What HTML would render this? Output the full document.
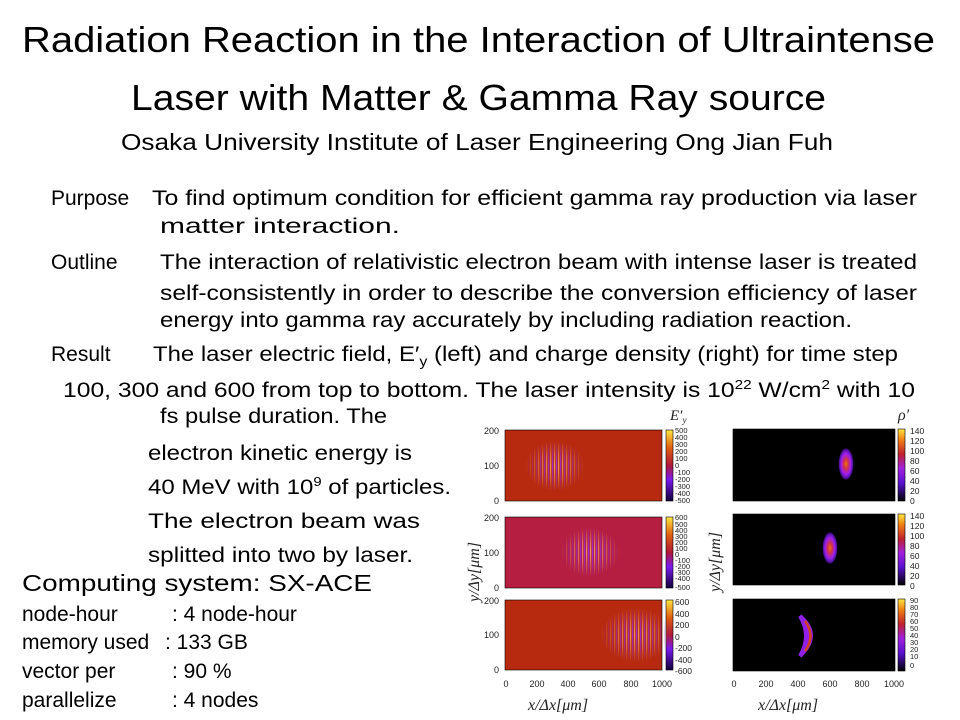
<!DOCTYPE html>
<html><head><meta charset="utf-8"><style>html,body{margin:0;padding:0;background:#fff}svg{display:block}</style></head><body>
<svg width="960" height="720" viewBox="0 0 960 720" xmlns="http://www.w3.org/2000/svg" font-family="Liberation Sans, DejaVu Sans, sans-serif">
<defs>
<pattern id="str" width="4" height="10" patternUnits="userSpaceOnUse">
<rect x="0" y="0" width="1.3" height="10" fill="#9a2cf0"/><rect x="2.2" y="0" width="1" height="10" fill="#ffc070"/>
</pattern>
<radialGradient id="rg"><stop offset="0" stop-color="#fff" stop-opacity="0.9"/><stop offset="0.5" stop-color="#fff" stop-opacity="0.55"/><stop offset="1" stop-color="#fff" stop-opacity="0"/></radialGradient>
<mask id="m1"><ellipse cx="555" cy="466" rx="30" ry="25" fill="url(#rg)"/></mask>
<mask id="m2"><ellipse cx="590" cy="552" rx="30" ry="25" fill="url(#rg)"/></mask>
<mask id="m3"><ellipse cx="636" cy="635" rx="36" ry="27" fill="url(#rg)"/></mask>
<linearGradient id="cbE" x1="0" y1="1" x2="0" y2="0"><stop offset="0" stop-color="#10003a"/><stop offset="0.3" stop-color="#7a1af0"/><stop offset="0.5" stop-color="#b01838"/><stop offset="0.75" stop-color="#e06010"/><stop offset="1" stop-color="#ffe840"/></linearGradient>
<linearGradient id="cbR" x1="0" y1="1" x2="0" y2="0"><stop offset="0" stop-color="#000"/><stop offset="0.25" stop-color="#5a10d0"/><stop offset="0.45" stop-color="#a020e0"/><stop offset="0.65" stop-color="#c02030"/><stop offset="0.85" stop-color="#f08010"/><stop offset="1" stop-color="#ffe840"/></linearGradient>
<radialGradient id="blob"><stop offset="0" stop-color="#f07010"/><stop offset="0.3" stop-color="#d03050"/><stop offset="0.6" stop-color="#a020f0"/><stop offset="0.85" stop-color="#5010a0"/><stop offset="1" stop-color="#000" stop-opacity="0"/></radialGradient>
</defs>
<g fill="#000">
<text x="22" y="52" font-size="36" textLength="913" lengthAdjust="spacingAndGlyphs">Radiation Reaction in the Interaction of Ultraintense</text>
<text x="131" y="110" font-size="36" textLength="695" lengthAdjust="spacingAndGlyphs">Laser with Matter &amp; Gamma Ray source</text>
<text x="121" y="150" font-size="23" textLength="712" lengthAdjust="spacingAndGlyphs">Osaka University Institute of Laser Engineering  Ong Jian Fuh</text>
<g font-size="21">
<text x="51" y="205">Purpose</text>
<text x="152" y="205" textLength="765" lengthAdjust="spacingAndGlyphs">To find optimum condition for efficient gamma ray  production via laser</text>
<text x="160" y="233" textLength="240" lengthAdjust="spacingAndGlyphs">matter interaction.</text>
<text x="51" y="269">Outline</text>
<text x="160" y="269" textLength="757" lengthAdjust="spacingAndGlyphs">The interaction of relativistic electron beam with intense laser is treated</text>
<text x="160" y="300" textLength="757" lengthAdjust="spacingAndGlyphs">self-consistently in order to describe the conversion efficiency of laser</text>
<text x="160" y="327" textLength="692" lengthAdjust="spacingAndGlyphs">energy into gamma ray accurately by including radiation reaction.</text>
<text x="51" y="361">Result</text>
<text x="153" y="361" textLength="745" lengthAdjust="spacingAndGlyphs">The laser electric field, E′<tspan font-size="14" dy="5">y</tspan><tspan dy="-5"> (left) and charge density (right)  for time step</tspan></text>
<text x="63" y="397" textLength="852" lengthAdjust="spacingAndGlyphs">100, 300 and 600 from top to bottom. The laser intensity  is 10<tspan font-size="13" dy="-8">22</tspan><tspan dy="8"> W/cm</tspan><tspan font-size="13" dy="-8">2</tspan><tspan dy="8">    with 10</tspan></text>
<text x="160" y="423" textLength="227" lengthAdjust="spacingAndGlyphs">fs pulse duration. The</text>
<text x="148" y="460" textLength="264" lengthAdjust="spacingAndGlyphs">electron kinetic energy is</text>
<text x="148" y="494" textLength="303" lengthAdjust="spacingAndGlyphs">40 MeV with 10<tspan font-size="13" dy="-8">9</tspan><tspan dy="8"> of particles.</tspan></text>
<text x="148" y="528" textLength="272" lengthAdjust="spacingAndGlyphs">The electron beam was</text>
<text x="148" y="562" textLength="265" lengthAdjust="spacingAndGlyphs">splitted into two by laser.</text>
</g>
<text x="22" y="591" font-size="23" textLength="350" lengthAdjust="spacingAndGlyphs">Computing system: SX-ACE</text>
<g font-size="21">
<text x="22" y="621">node-hour</text><text x="172" y="621">: 4 node-hour</text>
<text x="22" y="649">memory used</text><text x="165" y="649">: 133 GB</text>
<text x="22" y="678">vector per</text><text x="172" y="678">: 90 %</text>
<text x="22" y="707">parallelize</text><text x="172" y="707">: 4 nodes</text>
</g>
</g>
<!-- left plots -->
<g stroke="#000" stroke-width="0.6">
<rect x="505" y="430" width="157" height="71" fill="#b82a10"/>
<rect x="505" y="517" width="157" height="71" fill="#b51e40"/>
<rect x="505" y="600" width="157" height="70" fill="#b82a10"/>
<rect x="666" y="430" width="7" height="71" fill="url(#cbE)"/>
<rect x="666" y="517" width="7" height="71" fill="url(#cbE)"/>
<rect x="666" y="600" width="7" height="70" fill="url(#cbE)"/>
</g>
<rect x="522" y="438" width="68" height="56" fill="url(#str)" mask="url(#m1)"/>
<rect x="557" y="524" width="68" height="56" fill="url(#str)" mask="url(#m2)"/>
<rect x="598" y="606" width="78" height="60" fill="url(#str)" mask="url(#m3)"/>
<g font-size="9" fill="#222" text-anchor="end">
<text x="499" y="434">200</text><text x="499" y="469">100</text><text x="499" y="504">0</text>
<text x="499" y="521">200</text><text x="499" y="556">100</text><text x="499" y="591">0</text>
<text x="499" y="604">200</text><text x="499" y="638">100</text><text x="499" y="673">0</text>
</g>
<g font-size="9" fill="#222" text-anchor="middle">
<text x="506" y="687">0</text><text x="537" y="687">200</text><text x="568" y="687">400</text><text x="599" y="687">600</text><text x="631" y="687">800</text><text x="662" y="687">1000</text>
<text x="734" y="687">0</text><text x="766" y="687">200</text><text x="798" y="687">400</text><text x="830" y="687">600</text><text x="862" y="687">800</text><text x="894" y="687">1000</text>
</g>
<g font-size="7.5" fill="#222">
<text x="675" y="433">500</text><text x="675" y="440">400</text><text x="675" y="447">300</text><text x="675" y="454">200</text><text x="675" y="461">100</text><text x="675" y="468">0</text><text x="675" y="475">-100</text><text x="675" y="482">-200</text><text x="675" y="489">-300</text><text x="675" y="496">-400</text><text x="675" y="503">-500</text>
<text x="675" y="520">600</text><text x="675" y="527">500</text><text x="675" y="533">400</text><text x="675" y="539">300</text><text x="675" y="545">200</text><text x="675" y="551">100</text><text x="675" y="557">0</text><text x="675" y="563">-100</text><text x="675" y="569">-200</text><text x="675" y="575">-300</text><text x="675" y="581">-400</text><text x="675" y="590">-500</text>
</g>
<g font-size="8.5" fill="#222">
<text x="675" y="605">600</text><text x="675" y="617">400</text><text x="675" y="628">200</text><text x="675" y="640">0</text><text x="675" y="651">-200</text><text x="675" y="663">-400</text><text x="675" y="674">-600</text>
<text x="910" y="434">140</text><text x="910" y="444">120</text><text x="910" y="454">100</text><text x="910" y="464">80</text><text x="910" y="474">60</text><text x="910" y="484">40</text><text x="910" y="494">20</text><text x="910" y="504">0</text>
<text x="910" y="519">140</text><text x="910" y="529">120</text><text x="910" y="539">100</text><text x="910" y="549">80</text><text x="910" y="559">60</text><text x="910" y="569">40</text><text x="910" y="579">20</text><text x="910" y="589">0</text>
</g>
<g font-size="7.5" fill="#222">
<text x="910" y="603">90</text><text x="910" y="610">80</text><text x="910" y="617">70</text><text x="910" y="624">60</text><text x="910" y="631">50</text><text x="910" y="638">40</text><text x="910" y="645">30</text><text x="910" y="652">20</text><text x="910" y="659">10</text><text x="910" y="668">0</text>
</g>
<g font-family="Liberation Serif, serif" font-style="italic" fill="#222">
<text x="670" y="420" font-size="15">E′<tspan font-size="9" dy="3">y</tspan></text>
<text x="898" y="420" font-size="16">ρ′</text>
<text x="528" y="710" font-size="16">x/Δx[μm]</text>
<text x="758" y="710" font-size="16">x/Δx[μm]</text>
<text transform="translate(479,602) rotate(-90)" font-size="16">y/Δy[μm]</text>
<text transform="translate(720,592) rotate(-90)" font-size="16">y/Δy[μm]</text>
</g>
<!-- right plots -->
<g stroke="#000" stroke-width="0.6">
<rect x="733" y="429" width="162" height="72" fill="#000"/>
<rect x="733" y="514" width="162" height="71" fill="#000"/>
<rect x="733" y="599" width="162" height="72" fill="#000"/>
<rect x="898" y="429" width="7" height="72" fill="url(#cbR)"/>
<rect x="898" y="514" width="7" height="71" fill="url(#cbR)"/>
<rect x="898" y="599" width="7" height="72" fill="url(#cbR)"/>
</g>
<ellipse cx="846" cy="464" rx="8" ry="17" fill="url(#blob)"/>
<ellipse cx="830" cy="548" rx="8" ry="17" fill="url(#blob)"/>
<path d="M800,616 Q822,635 800,656 Q812,636 800,616 Z" fill="#a020f0" stroke="#9020e8" stroke-width="4"/>
<path d="M805,621 Q816,636 805,651" fill="none" stroke="#d04020" stroke-width="2.5"/>
</svg>
</body></html>
